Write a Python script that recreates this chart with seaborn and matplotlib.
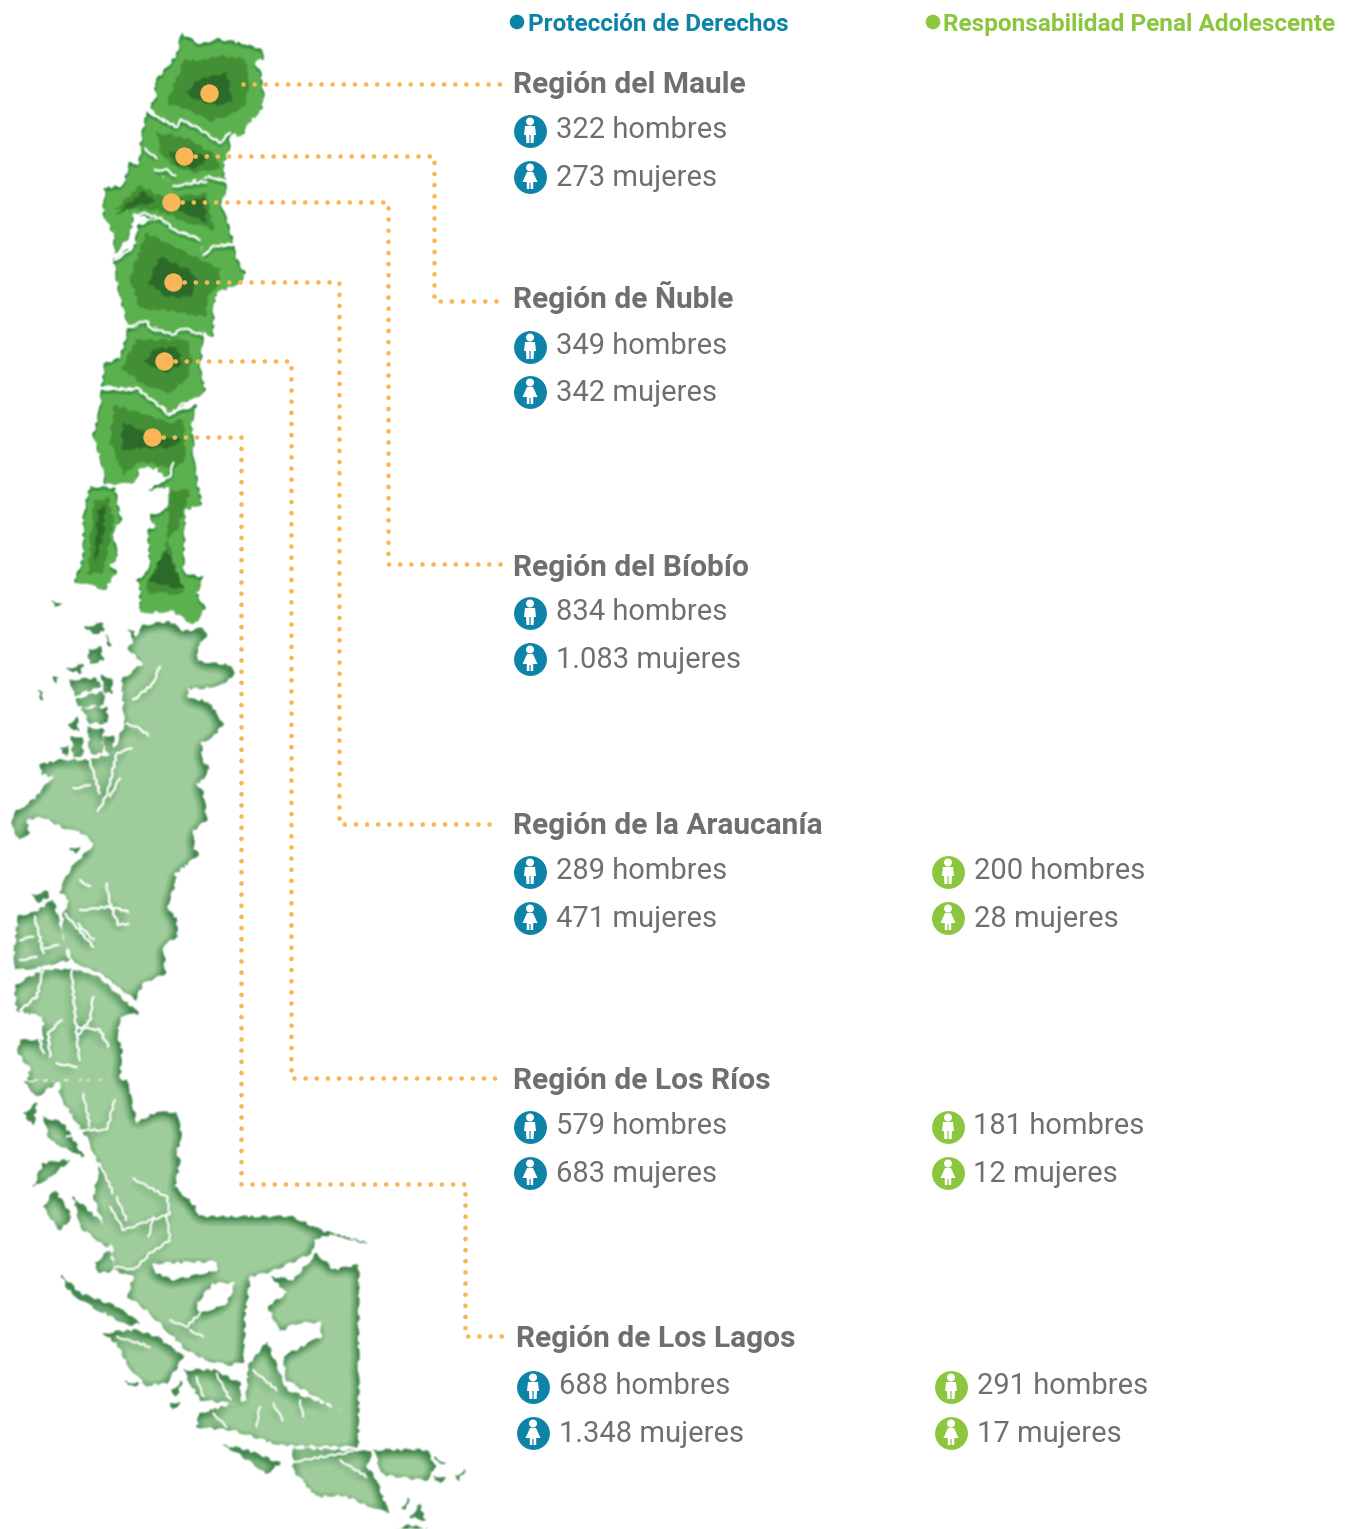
import numpy as np
import pandas as pd
import matplotlib
matplotlib.use('Agg')
import matplotlib.pyplot as plt
import seaborn as sns
from matplotlib.backends.backend_agg import FigureCanvasAgg
from matplotlib.colors import to_rgb
from matplotlib.figure import Figure
from matplotlib.patches import Circle, Polygon

W, H = 1346, 1529

# ----- data -----
regions = ['Región del Maule', 'Región de Ñuble', 'Región del Bíobío',
           'Región de la Araucanía', 'Región de Los Ríos', 'Región de Los Lagos']
pd_men = [322, 349, 834, 289, 579, 688]
pd_women = [273, 342, 1083, 471, 683, 1348]
rpa_men = [None, None, None, 200, 181, 291]
rpa_women = [None, None, None, 28, 12, 17]

# ----- layout, in pixels -----
title_x = [513, 513, 513, 513, 513, 516]
title_y = [83, 298, 566, 824, 1079, 1337]
men_y = [131, 347, 613, 872, 1127, 1387]
women_y = [177, 392, 659, 918, 1173, 1433]
right_icon_x = [0, 0, 0, 948, 948, 951]
right_text_x = [0, 0, 0, 974, 973, 977]
dot_x = [209, 184, 171, 173, 164, 152]
dot_y = [93, 156, 202, 282, 361, 437]
connectors = [
    [(243, 84), (505, 84)],
    [(184, 156), (434, 156), (434, 301), (503, 301)],
    [(171, 202), (388, 202), (388, 564), (503, 564)],
    [(173, 282), (339, 282), (339, 824), (500, 824)],
    [(164, 361), (291, 361), (291, 1078), (502, 1078)],
    [(152, 437), (241, 437), (241, 1184), (465, 1184), (465, 1336), (503, 1336)],
]

BLUE = '#0e83a8'
GREEN = '#8cc63f'
GREY = '#6f6f6e'
ORANGE = '#f9b657'


def z1(pts):
    return [(x / 3, y / 2.53 + 20) for x, y in pts]

def z3(pts):
    return [(x / 3, y / 3 + 620) for x, y in pts]

def z4(pts):
    return [(x / 3, y / 3 + 1080) for x, y in pts]


# ----- dark green northern regions -----
north_outer = [
    [(545, 35), (530, 90), (490, 130), (462, 160), (470, 190), (448, 222), (480, 245), (530, 268), (545, 250), (590, 270), (660, 310), (690, 285), (725, 295), (745, 260), (785, 225), (790, 185), (780, 125), (760, 105), (790, 98), (790, 78), (730, 60), (650, 48), (600, 62)],
    [(440, 232), (530, 270), (545, 250), (590, 272), (660, 310), (690, 285), (690, 320), (665, 380), (680, 405), (620, 395), (520, 420), (470, 385), (430, 340), (420, 320)],
    [(390, 360), (415, 365), (430, 320), (470, 385), (520, 420), (620, 400), (680, 410), (665, 470), (700, 560), (610, 590), (600, 555), (520, 530), (470, 505), (400, 490), (390, 545), (345, 590), (340, 540), (310, 490), (315, 425), (370, 420)],
    [(340, 605), (405, 570), (415, 520), (470, 505), (510, 530), (600, 555), (610, 590), (700, 565), (705, 600), (735, 640), (720, 665), (650, 690), (640, 720), (640, 800), (610, 790), (520, 795), (440, 770), (385, 775), (360, 700)],
    [(385, 780), (440, 770), (520, 795), (610, 790), (600, 880), (615, 935), (590, 955), (510, 990), (440, 950), (380, 930), (305, 925), (315, 870), (360, 855)],
    [(305, 935), (380, 935), (440, 950), (510, 1000), (590, 975), (575, 1020), (585, 1140), (605, 1225), (555, 1240), (550, 1400), (610, 1410), (590, 1450), (615, 1490), (580, 1530), (520, 1495), (420, 1500), (420, 1430), (410, 1420), (450, 1390), (445, 1290), (475, 1280), (510, 1210), (505, 1180), (445, 1190), (500, 1160), (470, 1135), (420, 1130), (405, 1170), (315, 1175), (310, 1135), (280, 1050), (300, 985)],
    [(270, 1180), (345, 1185), (355, 1240), (365, 1260), (335, 1300), (355, 1355), (330, 1380), (350, 1395), (315, 1440), (225, 1420), (250, 1360), (250, 1250)],
    [(450, 1250), (490, 1245), (500, 1300), (470, 1295)],
    [(155, 1470), (185, 1475), (165, 1482)],
]
north_ring = [
    [(555, 100), (500, 210), (560, 225), (630, 255), (690, 240), (740, 210), (745, 130), (735, 100), (660, 90), (600, 105)],
    [(470, 285), (560, 300), (640, 340), (660, 375), (580, 385), (520, 370), (480, 330)],
    [(345, 480), (420, 420), (490, 450), (620, 440), (640, 530), (560, 510), (470, 480), (400, 480)],
    [(390, 650), (440, 540), (560, 590), (660, 630), (650, 680), (620, 700), (615, 750), (510, 735), (420, 730)],
    [(365, 880), (410, 810), (560, 810), (575, 860), (560, 910), (500, 945), (420, 915)],
    [(330, 1065), (345, 975), (510, 1020), (550, 1010), (555, 1120), (525, 1130), (500, 1130), (420, 1115), (370, 1150)],
    [(510, 1190), (570, 1190), (530, 1290), (500, 1310), (530, 1400), (550, 1450), (450, 1450), (440, 1430), (495, 1340), (505, 1280)],
    [(285, 1215), (325, 1210), (340, 1270), (320, 1350), (305, 1400), (265, 1400), (275, 1290)],
]
north_core = [
    [(555, 185), (600, 150), (680, 135), (695, 205), (650, 215), (600, 205)],
    [(510, 335), (560, 325), (620, 350), (590, 375), (530, 365)],
    [(520, 470), (610, 450), (620, 510), (560, 490)],
    [(350, 490), (430, 435), (465, 460), (400, 470)],
    [(445, 665), (480, 600), (570, 635), (590, 660), (570, 700), (500, 700)],
    [(430, 865), (470, 830), (530, 830), (545, 870), (500, 890)],
    [(365, 1085), (370, 1020), (480, 1060), (540, 1060), (520, 1080)],
    [(490, 1350), (500, 1340), (550, 1440), (450, 1420)],
    [(295, 1240), (315, 1225), (310, 1300), (285, 1370), (290, 1300)],
]
north_white = [
    [(445, 230), (480, 250), (530, 270), (545, 252), (590, 272), (660, 310), (690, 285)],
    [(435, 325), (470, 350)],
    [(465, 380), (500, 378), (525, 395)],
    [(520, 420), (620, 408)],
    [(625, 395), (680, 408)],
    [(400, 495), (430, 488), (490, 505), (520, 530), (600, 555)],
    [(410, 515), (390, 548)],
    [(345, 607), (400, 575)],
    [(610, 595), (640, 572), (700, 567)],
    [(385, 775), (440, 760), (450, 780), (520, 795), (550, 780), (605, 795)],
    [(305, 932), (380, 935), (410, 930), (510, 1000), (550, 970), (590, 965)],
    [(520, 1120), (510, 1155), (440, 1185)],
]

# ----- pale green south -----
south_z3 = [
    # Aysen mainland
    [(430, 15), (510, 5), (550, 35), (610, 25), (620, 45), (590, 80), (595, 125), (690, 135), (700, 160), (680, 190), (600, 205), (560, 205), (565, 235), (625, 245), (670, 310), (640, 350), (605, 365), (605, 420), (630, 445), (605, 480), (590, 490), (610, 520), (620, 600), (580, 630), (580, 680), (595, 705), (525, 760), (525, 790), (500, 860), (530, 900), (530, 950), (490, 975), (495, 1060), (430, 1090), (405, 1140), (290, 1055), (225, 1030), (190, 960), (190, 880), (210, 840), (180, 815), (210, 750), (285, 670), (250, 640), (195, 625), (130, 590), (80, 600), (85, 640), (60, 660), (35, 620), (40, 580), (100, 540), (160, 470), (125, 460), (120, 435), (180, 420), (270, 420), (340, 400), (375, 310), (365, 180), (430, 130), (385, 85)],
    # west islands of the Aysen block
    [(55, 885), (100, 880), (160, 840), (175, 900), (205, 1020), (130, 1040), (45, 1050), (45, 985)],
    # block south of the diagonal channel
    [(45, 1095), (130, 1050), (215, 1045), (290, 1065), (415, 1180), (360, 1190), (350, 1240), (365, 1290), (360, 1380), (85, 1380), (90, 1345), (55, 1300), (60, 1260), (130, 1260), (130, 1190), (50, 1170)],
    # archipelago
    [(255, 20), (310, 10), (310, 35), (280, 40)], [(320, 45), (335, 75), (325, 75)],
    [(265, 90), (300, 80), (310, 120), (270, 130)], [(200, 145), (250, 135), (240, 160)],
    [(210, 180), (290, 175), (300, 200), (225, 225)], [(305, 165), (335, 175), (335, 220), (315, 215)],
    [(230, 235), (310, 215), (310, 255), (235, 260)], [(245, 265), (320, 265), (320, 310), (270, 310)],
    [(265, 320), (310, 330), (305, 400), (270, 400)], [(310, 350), (340, 345), (340, 405), (315, 390)],
    [(215, 350), (245, 350), (250, 405), (220, 410)], [(180, 385), (205, 375), (200, 410)],
    [(205, 315), (230, 290), (235, 335)], [(115, 210), (130, 215), (125, 240)],
    [(160, 170), (175, 170), (170, 190)], [(385, 30), (405, 30), (400, 55)],
    [(210, 685), (240, 680), (225, 700)], [(95, 825), (140, 815), (150, 830), (115, 845)],
]
south_z4 = [
    # mainland north of the channel
    [(180, 0), (380, 0), (410, 130), (460, 100), (530, 95), (545, 180), (525, 215), (540, 240), (525, 320), (585, 380), (595, 410), (875, 410), (960, 450), (1100, 490), (1000, 462), (945, 475), (935, 520), (810, 575), (750, 590), (735, 700), (730, 845), (690, 855), (620, 840), (560, 810), (520, 770), (440, 690), (385, 650), (400, 590), (345, 570), (340, 510), (280, 350), (300, 260), (260, 170), (180, 50)],
    # mainland east
    [(950, 520), (1000, 570), (1075, 555), (1075, 1100), (840, 1095), (700, 1050), (590, 1040), (600, 1000), (740, 960), (745, 860), (800, 785), (835, 870), (860, 930), (1020, 990), (860, 900), (850, 830), (965, 770), (965, 725), (880, 730), (840, 755), (805, 680), (860, 640), (815, 590), (880, 600)],
    # channel strip and the islands below it
    [(185, 585), (240, 640), (350, 680), (420, 730), (380, 735), (240, 660), (200, 620)],
    [(310, 760), (400, 750), (470, 770), (550, 830), (500, 910), (440, 915), (400, 880), (350, 790)],
    [(550, 870), (640, 870), (720, 910), (720, 970), (600, 960)],
    [(880, 1105), (1115, 1115), (1100, 1160), (1130, 1200), (1165, 1300), (1030, 1245), (950, 1250), (880, 1170)],
    [(1120, 1110), (1280, 1110), (1305, 1160), (1280, 1200), (1150, 1185)],
    [(670, 1095), (740, 1110), (840, 1150), (800, 1180), (730, 1130)],
    [(75, 5), (180, 0), (110, 50)], [(70, 100), (110, 70), (100, 135)],
    [(130, 110), (190, 130), (250, 230), (150, 180)], [(100, 320), (130, 250), (210, 240), (150, 290)],
    [(130, 380), (165, 330), (215, 410), (180, 450)], [(220, 350), (350, 470), (320, 500), (240, 440), (230, 390)],
    [(285, 550), (330, 510), (340, 570), (300, 580)], [(375, 905), (415, 910), (400, 920)],
    [(510, 970), (540, 965), (520, 990)], [(515, 930), (545, 905), (530, 950)],
    [(1300, 1190), (1335, 1190), (1320, 1210)], [(1365, 1190), (1395, 1170), (1375, 1200)],
    [(1305, 1130), (1335, 1150), (1310, 1145)], [(1205, 1285), (1225, 1255), (1220, 1285)],
    [(1230, 1310), (1260, 1275), (1275, 1320)], [(1190, 1347), (1280, 1347), (1230, 1335)],
]
fjords_z3 = [
    [(480, 140), (460, 190), (400, 240)], [(380, 310), (410, 320), (445, 345)],
    [(395, 385), (350, 400), (325, 510), (295, 575)], [(360, 475), (330, 530)],
    [(270, 420), (290, 490), (300, 520)], [(220, 505), (270, 495)],
    [(320, 790), (330, 850), (355, 915), (385, 910)], [(240, 870), (330, 860), (385, 875)],
    [(105, 890), (130, 1000)], [(100, 950), (60, 960)], [(130, 985), (175, 975)], [(60, 1020), (110, 1010)],
    [(215, 1050), (230, 1250), (240, 1320)],
    [(230, 1220), (300, 1230), (325, 1280)], [(280, 1130), (270, 1200), (230, 1250)],
    [(185, 1200), (145, 1240), (150, 1310)],
    [(130, 1050), (110, 1130), (60, 1170)], [(100, 1190), (130, 1300)],
    [(240, 780), (270, 800)], [(195, 880), (280, 980)], [(235, 910), (280, 960)],
    [(170, 1330), (230, 1340)],
]
fjords_z4 = [
    [(250, 40), (270, 140)], [(200, 170), (250, 150), (320, 150), (345, 60)],
    [(300, 250), (340, 340)], [(400, 295), (500, 350), (510, 400), (370, 450), (330, 380)],
    [(500, 400), (510, 480), (450, 520), (400, 570), (345, 560)], [(350, 350), (380, 420)],
    [(445, 470), (460, 410)], [(510, 720), (560, 740), (600, 700)], [(570, 750), (610, 770)],
    [(780, 980), (770, 1040)], [(900, 960), (910, 1010)], [(880, 1145), (1060, 1115)],
    [(1020, 1140), (1100, 1190)], [(590, 890), (610, 950)],
    [(650, 880), (690, 960)], [(820, 970), (850, 1020)], [(640, 1000), (680, 1040)],
    [(350, 770), (450, 800)], [(760, 870), (830, 930)],
]
diagonal_channel = [(130, 1042), (215, 1040), (290, 1060), (410, 1150)]
# bays and sounds cut out of the mainland
gaps_z4 = [
    [(460, 550), (650, 545), (650, 570), (520, 600), (470, 580)],
    [(590, 670), (640, 610), (705, 610), (680, 670), (600, 700)],
]
ROUGH = (1.1, 26, 9)  # sketch params, makes the traced outlines look like coast


def new_layer():
    f = Figure(figsize=(W / 100, H / 100), dpi=100)
    FigureCanvasAgg(f)
    a = f.add_axes([0, 0, 1, 1])
    a.set_xlim(0, W)
    a.set_ylim(H, 0)
    a.axis('off')
    return f, a


def add_polys(a, polys, col):
    for poly in polys:
        p = Polygon(poly, fc=col, ec=col, lw=0.3)
        p.set_sketch_params(*ROUGH)
        a.add_patch(p)


def add_lines(a, lines, col, lw):
    for line in lines:
        pts = np.array(line)
        l, = a.plot(pts[:, 0], pts[:, 1], color=col, lw=lw, solid_capstyle='round', solid_joinstyle='round')
        l.set_sketch_params(0.8, 20, 8)


def pixels(f):
    f.canvas.draw()
    return np.asarray(f.canvas.buffer_rgba())[:, :, :3] / 255.0


def box_blur(a, r):
    kernel = np.ones(2 * r + 1) / (2 * r + 1)
    a = np.apply_along_axis(lambda v: np.convolve(v, kernel, mode='same'), 0, a)
    return np.apply_along_axis(lambda v: np.convolve(v, kernel, mode='same'), 1, a)


# ----- south: a mask, blurred, gives the soft shadow along the coast -----
f, a = new_layer()
add_polys(a, [z3(p) for p in south_z3], 'k')
add_polys(a, [z4(p) for p in south_z4], 'k')
add_polys(a, [z4(p) for p in gaps_z4], 'w')
add_lines(a, [z3(p) for p in fjords_z3], 'w', 1.7)
add_lines(a, [z4(p) for p in fjords_z4], 'w', 1.5)
add_lines(a, [z3(diagonal_channel)], 'w', 2.8)
mask = 1 - pixels(f)[:, :, 0]

blur = box_blur(box_blur(mask, 6), 6)
blur = np.roll(blur, (3, -2), axis=(0, 1))
t = np.clip((blur - 0.42) / 0.5, 0, 1)[:, :, None]
light = np.array(to_rgb('#9ecc9a'))
dark = np.array(to_rgb('#44884f'))
south = np.dstack([dark * (1 - t) + light * t, box_blur(mask, 1)])

# ----- north: flat colour layers, softened the same way -----
f, a = new_layer()
f.patch.set_facecolor('#5cb14e')
add_polys(a, [z1(p) for p in north_ring], '#438f35')
add_polys(a, [z1(p) for p in north_core], '#2c6a2a')
north_rgb = np.dstack([box_blur(pixels(f)[:, :, c], 1) for c in range(3)])

f, a = new_layer()
add_polys(a, [z1(p) for p in north_outer], 'k')
add_lines(a, [z1(p) for p in north_white], 'w', 1.7)
north_mask = 1 - pixels(f)[:, :, 0]
n_blur = np.roll(box_blur(north_mask, 3), (2, 0), axis=(0, 1))
n_t = np.clip((n_blur - 0.4) / 0.5, 0, 1)[:, :, None]
north = np.dstack([np.array(to_rgb('#2f8a3c')) * (1 - n_t) + north_rgb * n_t, box_blur(north_mask, 1)])

# ----- the figure -----
sns.set_theme(style='white')
plt.rcParams['font.family'] = ['Roboto', 'DejaVu Sans']
fig = plt.figure(figsize=(W / 100, H / 100), dpi=100)
ax = fig.add_axes([0, 0, 1, 1])

ax.imshow(south, extent=(0, W, H, 0), zorder=1, aspect='auto')
ax.imshow(north, extent=(0, W, H, 0), zorder=2, aspect='auto')

# ----- connectors and markers -----
for path in connectors:
    pts = pd.DataFrame(path, columns=['x', 'y'])
    sns.lineplot(data=pts, x='x', y='y', sort=False, estimator=None, color=ORANGE, lw=3.4,
                 linestyle=(0, (0.01, 2.35)), dash_capstyle='round', zorder=4, ax=ax)
sns.scatterplot(x=dot_x, y=dot_y, color=ORANGE, s=175, linewidth=0, zorder=5, ax=ax)


def person(cx, cy, woman):
    if woman:
        body = [(-3, -5), (3, -5), (7.5, 5), (3.2, 5), (3.2, 12), (0.6, 12), (0.6, 6), (-0.6, 6), (-0.6, 12), (-3.2, 12), (-3.2, 5), (-7.5, 5)]
    else:
        body = [(-5, -5), (5, -5), (6, 4), (4, 4), (3.6, 12), (0.6, 12), (0.6, 4), (-0.6, 4), (-0.6, 12), (-3.6, 12), (-4, 4), (-6, 4)]
    ax.add_patch(Polygon([(cx + x, cy + y) for x, y in body], fc='w', ec='none', zorder=7))
    ax.add_patch(Circle((cx, cy - 9.5), 4, fc='w', ec='none', zorder=7))


def count_row(icon_x, text_x, y, base, value, label, col):
    sns.scatterplot(x=[icon_x], y=[y], color=col, s=560, linewidth=0, zorder=6, ax=ax)
    person(icon_x, y, label == 'mujeres')
    ax.text(text_x, base, f'{value:,}'.replace(',', '.') + ' ' + label, color=GREY,
            fontsize=21, va='baseline', ha='left', zorder=8)


for i, name in enumerate(regions):
    ax.text(title_x[i], title_y[i] + 10, name, color=GREY, fontsize=21.5, fontweight='bold', va='baseline', ha='left')
    shift = title_x[i] - 513
    count_row(530 + shift, 556 + shift, men_y[i], men_y[i] + 7, pd_men[i], 'hombres', BLUE)
    count_row(530 + shift, 556 + shift, women_y[i], women_y[i] + 9, pd_women[i], 'mujeres', BLUE)
    if rpa_men[i] is not None:
        count_row(right_icon_x[i], right_text_x[i], men_y[i], men_y[i] + 7, rpa_men[i], 'hombres', GREEN)
        count_row(right_icon_x[i], right_text_x[i], women_y[i], women_y[i] + 9, rpa_women[i], 'mujeres', GREEN)

# ----- legend -----
sns.scatterplot(x=[517, 933], y=[22, 22], hue=['a', 'b'], palette=[BLUE, GREEN], s=110, linewidth=0, legend=False, ax=ax)
ax.text(528, 31, 'Protección de Derechos', color=BLUE, fontsize=17.5, fontweight='bold', va='baseline')
ax.text(943, 31, 'Responsabilidad Penal Adolescente', color=GREEN, fontsize=17.6, fontweight='bold', va='baseline')

ax.set_xlim(0, W)
ax.set_ylim(H, 0)
ax.axis('off')
fig.savefig('out.png', dpi=100, facecolor='white')
